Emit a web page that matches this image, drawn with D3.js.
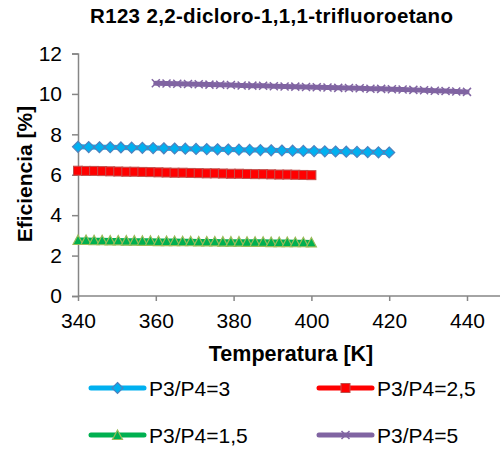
<!DOCTYPE html>
<html>
<head>
<meta charset="utf-8">
<script src="https://cdn.jsdelivr.net/npm/d3@7"></script>
<style>
  body { margin: 0; background: #fff; }
  text { font-family: "Liberation Sans", Arial, sans-serif; fill: #000; }
</style>
</head>
<body>
<svg id="chart" width="500" height="451"></svg>
<script>
// values, 30 points per series
const temps3 = d3.range(30).map(i => 340 + i * 80 / 29);
const eff3 = [7.38, 7.37, 7.36, 7.36, 7.35, 7.34, 7.33, 7.32, 7.31, 7.30, 7.29, 7.28, 7.27, 7.26, 7.25,
              7.24, 7.23, 7.22, 7.21, 7.20, 7.19, 7.18, 7.17, 7.16, 7.15, 7.14, 7.13, 7.12, 7.11, 7.10];
const temps25 = d3.range(30).map(i => 340 + i * 60 / 29);
const eff25 = [6.20, 6.19, 6.19, 6.18, 6.17, 6.16, 6.15, 6.15, 6.14, 6.13, 6.12, 6.11, 6.10, 6.10, 6.09,
               6.08, 6.07, 6.07, 6.06, 6.05, 6.05, 6.04, 6.03, 6.03, 6.02, 6.01, 6.01, 6.00, 5.99, 5.98];
const temps15 = d3.range(30).map(i => 340 + i * 60 / 29);
const eff15 = [2.77, 2.77, 2.76, 2.76, 2.75, 2.75, 2.74, 2.74, 2.73, 2.73, 2.72, 2.72, 2.72, 2.71, 2.71,
               2.70, 2.70, 2.70, 2.69, 2.69, 2.69, 2.68, 2.68, 2.68, 2.67, 2.67, 2.67, 2.66, 2.66, 2.65];
const temps5 = d3.range(30).map(i => 360 + i * 80 / 29);
const eff5 = [10.53, 10.52, 10.50, 10.49, 10.48, 10.46, 10.45, 10.44, 10.42, 10.41, 10.40, 10.38, 10.37, 10.36, 10.34,
              10.33, 10.32, 10.30, 10.29, 10.28, 10.26, 10.25, 10.23, 10.22, 10.20, 10.18, 10.16, 10.14, 10.12, 10.10];

const xTicks = [340, 360, 380, 400, 420, 440];
const yTicks = [0, 2, 4, 6, 8, 10, 12];

const series = [
  { name: "P3/P4=3", xs: temps3, ys: eff3, line: "#00b0f0", fill: "#00b0f0", stroke: "#4f81bd", marker: "diamond" },
  { name: "P3/P4=2,5", xs: temps25, ys: eff25, line: "#ff0000", fill: "#ff0000", stroke: "#c0504d", marker: "square" },
  { name: "P3/P4=1,5", xs: temps15, ys: eff15, line: "#00b050", fill: "#00b050", stroke: "#9bbb59", marker: "triangle" },
  { name: "P3/P4=5", xs: temps5, ys: eff5, line: "#8064a2", fill: "none", stroke: "#8064a2", marker: "cross" }
];

const svg = d3.select('#chart');
const x = d3.scaleLinear().domain([340, 440]).range([78, 467]);
const y = d3.scaleLinear().domain([0, 12]).range([296, 53.5]);

svg.append('text')
  .attr('x', 271.5).attr('y', 22.5)
  .attr('text-anchor', 'middle')
  .attr('textLength', 363).attr('lengthAdjust', 'spacing')
  .style('font-size', '20.5px').style('font-weight', 'bold')
  .text('R123 2,2-dicloro-1,1,1-trifluoroetano');

// axes
const xAxis = svg.append('g').attr('transform', `translate(0,${y(0)})`)
  .call(d3.axisBottom(x).tickValues(xTicks).tickSize(5).tickPadding(12).tickFormat(d3.format('d')));
xAxis.select('.domain').attr('d', `M${x(340)},0H500`);
const yAxis = svg.append('g').attr('transform', `translate(${x(340)},0)`)
  .call(d3.axisLeft(y).tickValues(yTicks).tickSize(6).tickPadding(10));
[xAxis, yAxis].forEach(g => {
  g.select('.domain').attr('stroke', '#868686').attr('stroke-width', 1.5);
  g.selectAll('.tick line').attr('stroke', '#868686').attr('stroke-width', 1.5);
  g.selectAll('.tick text').style('font-size', '21px').attr('fill', '#000')
    .style('font-family', '"Liberation Sans", Arial, sans-serif');
});

svg.append('text')
  .attr('transform', 'translate(32,174) rotate(-90)')
  .attr('text-anchor', 'middle')
  .style('font-size', '21px').style('font-weight', 'bold')
  .text('Eficiencia [%]');
svg.append('text')
  .attr('x', 291).attr('y', 361)
  .attr('text-anchor', 'middle')
  .style('font-size', '21.5px').style('font-weight', 'bold')
  .text('Temperatura [K]');

function drawMarker(g, type, fill, stroke) {
  if (type === 'diamond') {
    g.append('path').attr('d', 'M0,-5.5L5.5,0L0,5.5L-5.5,0Z')
      .attr('fill', fill).attr('stroke', stroke).attr('stroke-width', 1.2);
  } else if (type === 'square') {
    g.append('rect').attr('x', -4.5).attr('y', -4.5).attr('width', 9).attr('height', 9)
      .attr('fill', fill).attr('stroke', stroke).attr('stroke-width', 1);
  } else if (type === 'triangle') {
    g.append('path').attr('d', 'M0,-5L5,4.5L-5,4.5Z')
      .attr('fill', fill).attr('stroke', stroke).attr('stroke-width', 1.2);
  } else {
    g.append('path').attr('d', 'M-4,-4L4,4M-4,4L4,-4')
      .attr('stroke', stroke).attr('stroke-width', 1.5).attr('fill', 'none');
  }
}

const line = d3.line().x(d => x(d[0])).y(d => y(d[1]));
series.forEach(s => {
  const pts = s.xs.map((t, i) => [t, s.ys[i]]);
  svg.append('path').datum(pts)
    .attr('d', line)
    .attr('fill', 'none')
    .attr('stroke', s.line)
    .attr('stroke-width', 5)
    .attr('stroke-linecap', 'round');
  svg.append('g').selectAll('g').data(pts).join('g')
    .attr('transform', d => `translate(${x(d[0])},${y(d[1])})`)
    .each(function () { drawMarker(d3.select(this), s.marker, s.fill, s.stroke); });
});

// legend
const legendPos = [[91, 388], [319, 388], [91, 435], [319, 435]];
series.forEach((s, i) => {
  const [lx, ly] = legendPos[i];
  const g = svg.append('g').attr('transform', `translate(${lx},${ly})`);
  g.append('line').attr('x1', 0).attr('x2', 53).attr('y1', 0).attr('y2', 0)
    .attr('stroke', s.line).attr('stroke-width', 5).attr('stroke-linecap', 'round');
  drawMarker(g.append('g').attr('transform', 'translate(26.5,0)'), s.marker, s.fill, s.stroke);
  g.append('text').attr('x', 58).attr('y', 8)
    .style('font-size', '21px')
    .text(s.name);
});
</script>
</body>
</html>
